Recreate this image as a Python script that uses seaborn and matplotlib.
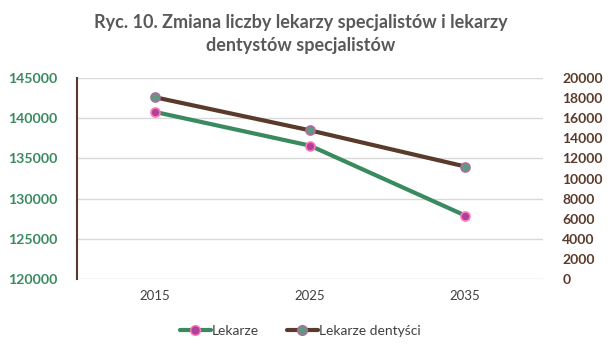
import numpy as np
import pandas as pd
import seaborn as sns
import matplotlib.pyplot as plt
from matplotlib.lines import Line2D

years = ['2015', '2025', '2035']
lekarze = [140800, 136600, 127900]
dentysci = [18100, 14800, 11200]

left_ticks = [120000, 125000, 130000, 135000, 140000, 145000]
right_ticks = list(range(0, 20001, 2000))

green = '#3a8a60'
brown = '#5a3a2a'
grid_c = '#d9d9d9'

sns.set_theme(style='white')
plt.rcParams['font.family'] = ['Lato', 'DejaVu Sans']

df = pd.DataFrame({'rok': years, 'Lekarze': lekarze, 'Lekarze dentyści': dentysci})

fig = plt.figure(figsize=(6.13, 3.55), dpi=100)
ax = fig.add_axes([0.1256, 0.214, 0.760, 0.566])

sns.lineplot(data=df, x='rok', y='Lekarze', ax=ax, color=green, linewidth=3,
             marker='o', markersize=6.5, markerfacecolor='#b0409a',
             markeredgecolor='#ff7ab8', markeredgewidth=1.2, sort=False)
ax.set_ylim(120000, 145000)
ax.set_yticks(left_ticks)
ax.set_xlim(-0.5, 2.5)
ax.yaxis.grid(True, color=grid_c, linewidth=1)
ax.set_axisbelow(True)
for lab in ax.get_yticklabels():
    lab.set_color(green)
    lab.set_fontweight('bold')
    lab.set_fontsize(10.2)
ax.tick_params(axis='y', length=0, pad=14)
ax.tick_params(axis='x', length=0, labelsize=9.5, labelcolor='#404040', pad=8)
ax.set_xlabel('')
ax.set_ylabel('')
for s in ['top', 'right', 'bottom']:
    ax.spines[s].set_visible(False)
ax.spines['left'].set_color(brown)
ax.spines['left'].set_linewidth(1.5)

ax2 = ax.twinx()
sns.lineplot(data=df, x='rok', y='Lekarze dentyści', ax=ax2, color=brown, linewidth=3,
             marker='o', markersize=6.5, markerfacecolor='#5f9a80',
             markeredgecolor='#b06aa0', markeredgewidth=1.2, sort=False)
ax2.set_ylim(0, 20000)
ax2.set_yticks(right_ticks)
for lab in ax2.get_yticklabels():
    lab.set_color(brown)
    lab.set_fontweight('bold')
    lab.set_fontsize(10)
ax2.tick_params(axis='y', length=0, pad=14)
ax2.set_ylabel('')
for s in ax2.spines.values():
    s.set_visible(False)

fig.text(0.49, 0.905, 'Ryc. 10. Zmiana liczby lekarzy specjalistów i lekarzy\ndentystów specjalistów',
         ha='center', va='center', fontsize=13, fontweight='bold', color='#595959',
         linespacing=1.45)

handles = [
    Line2D([], [], color=green, linewidth=3, marker='o', markersize=7,
           markerfacecolor='#b0409a', markeredgecolor='#ff7ab8'),
    Line2D([], [], color=brown, linewidth=3, marker='o', markersize=7,
           markerfacecolor='#5f9a80', markeredgecolor='#b06aa0'),
]
fig.legend(handles, ['Lekarze', 'Lekarze dentyści'], loc='center', bbox_to_anchor=(0.49, 0.068),
           ncol=2, frameon=False, fontsize=10, handlelength=2.2, handletextpad=0.1,
           columnspacing=2.0, labelcolor='#404040')

plt.savefig('out.png', dpi=100)
